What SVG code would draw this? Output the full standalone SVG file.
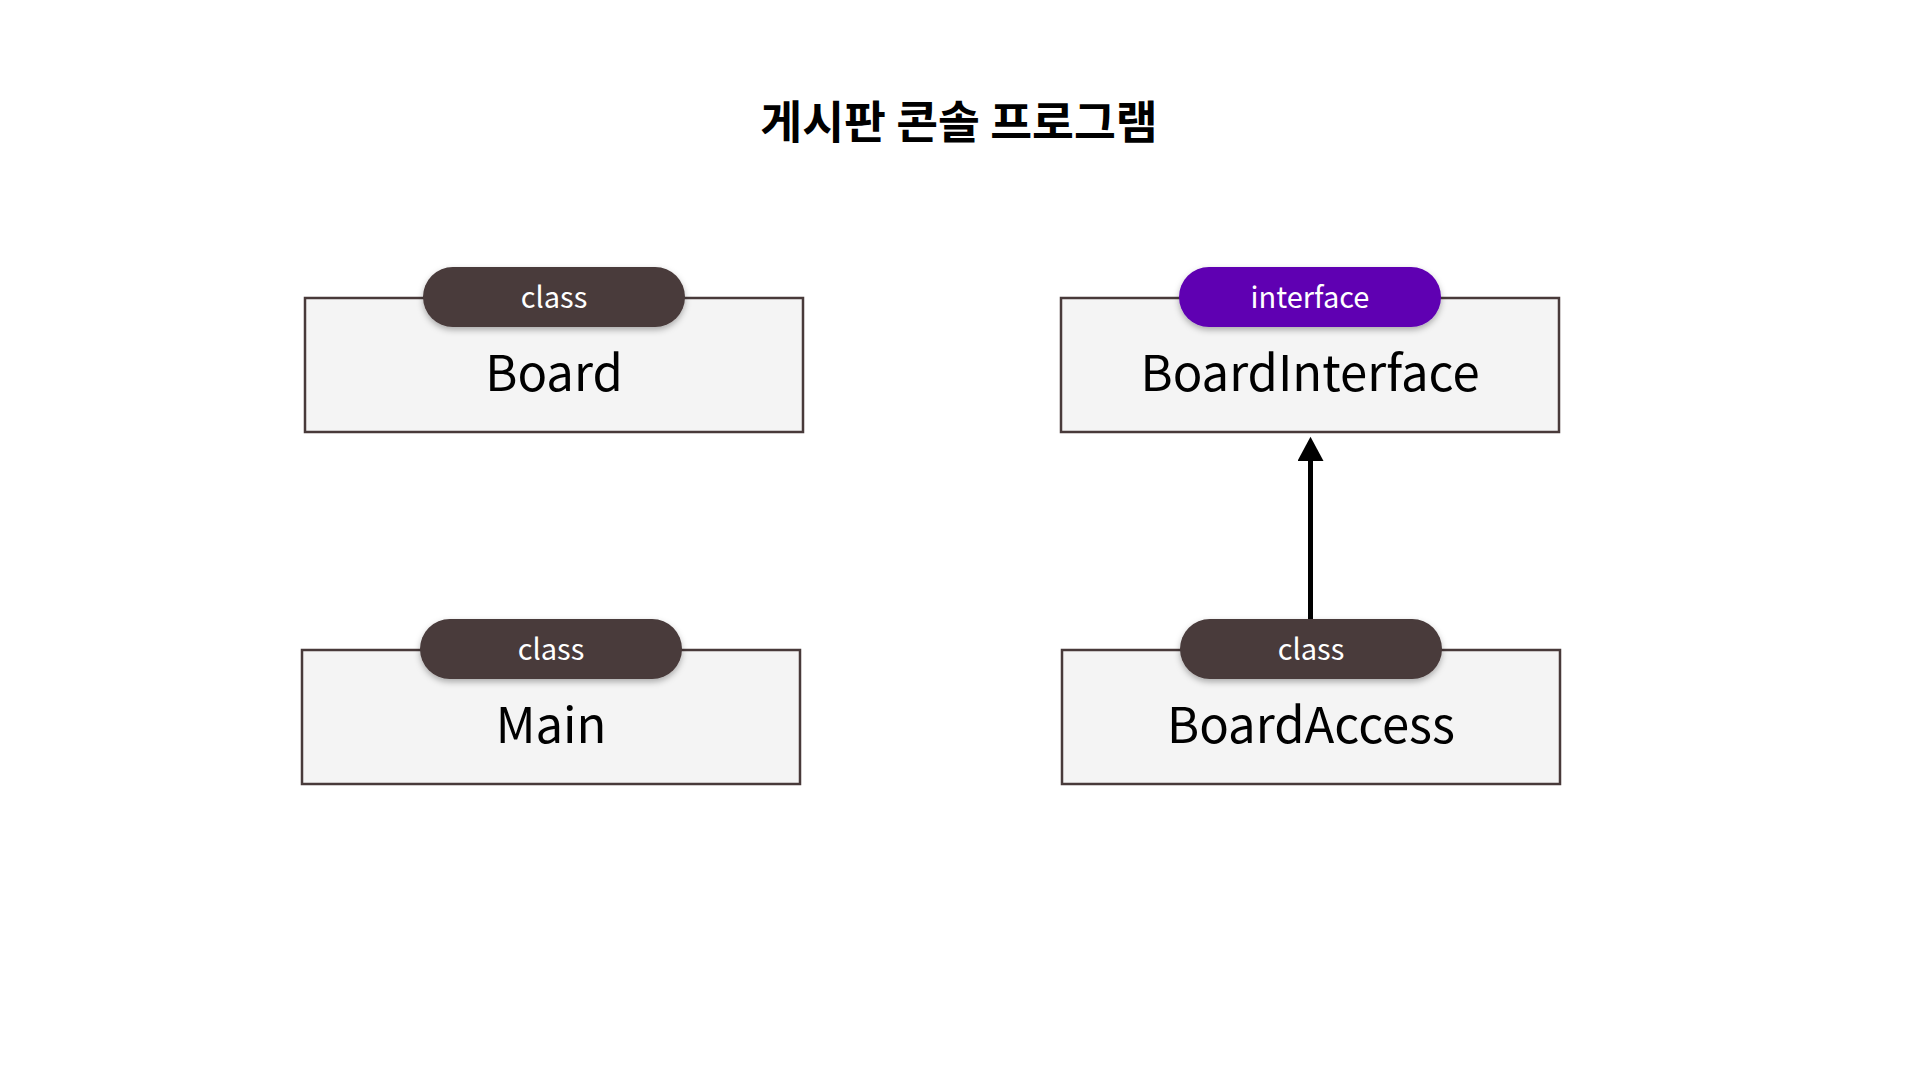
<svg xmlns="http://www.w3.org/2000/svg" width="1920" height="1080" viewBox="0 0 1920 1080">
  <defs>
    <style>
      .box { fill: #f4f4f4; stroke: #483a3a; stroke-width: 2.5; }
      .pill { filter: url(#sh); }
      .pill-class { fill: #483a3a; }
      .pill-iface { fill: #5f00b2; }
      .tag { font-family: "Noto Sans CJK KR", "Noto Sans", sans-serif; font-size: 29px; fill: #ffffff; text-anchor: middle; }
      .name { font-family: "Noto Sans CJK KR", "Noto Sans", sans-serif; font-size: 49px; fill: #000000; text-anchor: middle; }
      .title { font-family: "Noto Sans CJK KR", "Noto Sans", sans-serif; font-size: 45.5px; font-weight: bold; fill: #000000; text-anchor: middle; }
      .edge { stroke: #000000; stroke-width: 5; fill: none; }
    </style>
    <filter id="sh" x="-10%" y="-30%" width="120%" height="170%">
      <feDropShadow dx="0" dy="3" stdDeviation="3" flood-color="#000000" flood-opacity="0.3"/>
    </filter>
    <marker id="arrow" markerUnits="userSpaceOnUse" markerWidth="30" markerHeight="26" refX="0" refY="14" viewBox="0 0 30 28" orient="auto">
      <path d="M0,0 L26,14 L0,28 Z" fill="#000000"/>
    </marker>
  </defs>
  <rect width="1920" height="1080" fill="#ffffff"/>

  <text class="title" x="959" y="139">게시판 콘솔 프로그램</text>

  <g id="connectors">
    <line class="edge" x1="1310.5" y1="619" x2="1310.5" y2="461" marker-end="url(#arrow)"/>
  </g>

  <g id="node-board">
    <rect class="box" x="305" y="298" width="498" height="134"/>
    <rect class="pill pill-class" x="423" y="267" width="262" height="60" rx="30"/>
    <text class="tag" x="554" y="307.5">class</text>
    <text class="name" x="554" y="391">Board</text>
  </g>

  <g id="node-boardinterface">
    <rect class="box" x="1061" y="298" width="498" height="134"/>
    <rect class="pill pill-iface" x="1179" y="267" width="262" height="60" rx="30"/>
    <text class="tag" x="1310" y="307.5">interface</text>
    <text class="name" x="1310" y="391">BoardInterface</text>
  </g>

  <g id="node-main">
    <rect class="box" x="302" y="650" width="498" height="134"/>
    <rect class="pill pill-class" x="420" y="619" width="262" height="60" rx="30"/>
    <text class="tag" x="551" y="659.5">class</text>
    <text class="name" x="551" y="743">Main</text>
  </g>

  <g id="node-boardaccess">
    <rect class="box" x="1062" y="650" width="498" height="134"/>
    <rect class="pill pill-class" x="1180" y="619" width="262" height="60" rx="30"/>
    <text class="tag" x="1311" y="659.5">class</text>
    <text class="name" x="1311" y="743">BoardAccess</text>
  </g>
</svg>
